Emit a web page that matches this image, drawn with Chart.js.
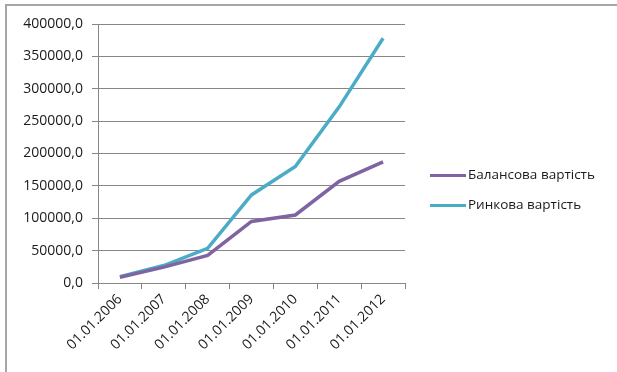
<!DOCTYPE html>
<html>
<head>
<meta charset="utf-8">
<script src="https://cdn.jsdelivr.net/npm/chart.js@4.4.0/dist/chart.umd.min.js"></script>
<style>
  html, body { margin: 0; padding: 0; background: #fff; }
  #wrap { position: relative; width: 617px; height: 372px; overflow: hidden; font-family: "Open Sans", "Noto Sans", sans-serif; }
  #frame { position: absolute; left: 5px; top: 4px; width: 700px; height: 500px; border: 2px solid #a6a6a6; box-sizing: border-box; }
  #c { position: absolute; left: 0; top: 0; }
  #legend { position: absolute; left: 430px; top: 164px; font-size: 13.5px; color: #1a1a1a; }
  #legend div { height: 30px; line-height: 20px; white-space: nowrap; }
  #legend span.sw { display: inline-block; width: 36px; height: 3.5px; vertical-align: middle; margin-right: 2px; }
</style>
</head>
<body>
<div id="wrap">
  <div id="frame"></div>
  <canvas id="c" width="617" height="372"></canvas>
  <div id="legend"></div>
</div>
<script>
// Balance value vs market value, by date
const dates = ['01.01.2006', '01.01.2007', '01.01.2008', '01.01.2009', '01.01.2010', '01.01.2011', '01.01.2012'];
const balanceValue = [9000, 24500, 42500, 95000, 105000, 157000, 187000];
const marketValue = [9800, 27000, 53500, 136000, 180000, 272000, 378000];
const yTicks = [0, 50000, 100000, 150000, 200000, 250000, 300000, 350000, 400000];
const seriesNames = ['Балансова вартість', 'Ринкова вартість'];
const seriesColors = ['#8064a2', '#4bacc6'];

const fontFamily = '"Open Sans", "Noto Sans", sans-serif';

const chart = new Chart(document.getElementById('c').getContext('2d'), {
  type: 'line',
  data: {
    labels: dates,
    datasets: [balanceValue, marketValue].map((d, i) => ({
      label: seriesNames[i],
      data: d,
      borderColor: seriesColors[i],
      backgroundColor: seriesColors[i],
      borderWidth: 3.5,
      pointRadius: 0,
      tension: 0
    }))
  },
  options: {
    responsive: false,
    animation: false,
    layout: { padding: { left: 0, top: 24, right: 212, bottom: 0 } },
    plugins: {
      tooltip: { enabled: false },
      legend: { display: false }
    },
    scales: {
      x: {
        offset: true,
        afterFit: s => { s.height = 89; },
        grid: { offset: true, drawOnChartArea: false, tickLength: 6, color: '#868686' },
        border: { color: '#868686' },
        ticks: {
          minRotation: 45, maxRotation: 45,
          padding: 2,
          color: '#1a1a1a',
          font: { family: fontFamily, size: 14 }
        }
      },
      y: {
        min: 0, max: 400000,
        afterFit: s => { s.width = 98; },
        afterBuildTicks: axis => { axis.ticks = yTicks.map(v => ({ value: v })); },
        grid: { color: '#868686', tickLength: 6 },
        border: { color: '#868686' },
        ticks: {
          color: '#1a1a1a',
          padding: 9,
          font: { family: fontFamily, size: 14 },
          callback: v => v.toFixed(1).replace('.', ',')
        }
      }
    }
  }
});

// legend as real text beside the plot
document.getElementById('legend').innerHTML = chart.data.datasets.map(ds =>
  `<div><span class="sw" style="background:${ds.borderColor}"></span>${ds.label}</div>`).join('');
</script>
</body>
</html>
